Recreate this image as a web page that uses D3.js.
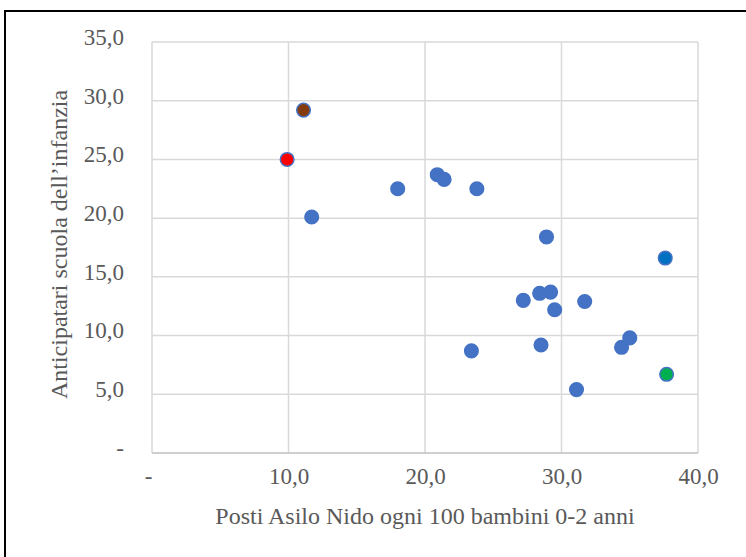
<!DOCTYPE html>
<html>
<head>
<meta charset="utf-8">
<style>
    body { margin: 0; background: #fff; }
    .tick text { font-family: "Liberation Serif", serif; font-size: 23px; fill: #595959; }
    .title { font-family: "Liberation Serif", serif; font-size: 24px; fill: #595959; }
</style>
</head>
<body>
<svg id="graph" width="746" height="557"></svg>
<script src="https://cdn.jsdelivr.net/npm/d3@7"></script>
<script>
// posti asilo nido (x) vs anticipatari (y)
var xValues = [11.1, 9.9, 11.7, 18.0, 20.9, 21.4, 23.8, 28.9, 37.6, 27.2, 28.4, 29.2, 29.5, 31.7, 23.4, 28.5, 31.1, 34.4, 35.0, 37.7];
var yValues = [29.2, 25.0, 20.1, 22.5, 23.7, 23.3, 22.5, 18.4, 16.6, 13.0, 13.6, 13.7, 12.2, 12.9, 8.7, 9.2, 5.4, 9.0, 9.8, 6.7];
var fillColors = ['#843C0C', '#FF0000', '#4472C4', '#4472C4', '#4472C4', '#4472C4', '#4472C4', '#4472C4', '#0070C0', '#4472C4',
                  '#4472C4', '#4472C4', '#4472C4', '#4472C4', '#4472C4', '#4472C4', '#4472C4', '#4472C4', '#4472C4', '#00B050'];
var xTicks = [0, 10, 20, 30, 40];
var yTicks = [0, 5, 10, 15, 20, 25, 30, 35];
var xTitle = 'Posti Asilo Nido ogni 100 bambini 0-2 anni';
var yTitle = 'Anticipatari scuola dell\u2019infanzia';

var margin = { top: 42, left: 152, right: 48, bottom: 104 };
var width = 746 - margin.left - margin.right,
    height = 557 - margin.top - margin.bottom;

var svg = d3.select('#graph');

// chart border
svg.append('rect')
    .attr('x', 5).attr('y', 11)
    .attr('width', 760).attr('height', 560)
    .attr('fill', 'none').attr('stroke', '#000').attr('stroke-width', 2);

var g = svg.append('g').attr('transform', 'translate(' + margin.left + ',' + margin.top + ')');

var x = d3.scaleLinear().domain([0, 40]).range([0, width]);
var y = d3.scaleLinear().domain([0, 35]).range([height, 0]);

function fmt(d) { return d === 0 ? '-' : d.toFixed(1).replace('.', ','); }

// gridlines
g.selectAll('.vgrid').data(xTicks).enter().append('line')
    .attr('x1', d => x(d)).attr('x2', d => x(d))
    .attr('y1', 0).attr('y2', height)
    .attr('stroke', '#d9d9d9').attr('stroke-width', 1.5);
g.selectAll('.hgrid').data(yTicks).enter().append('line')
    .attr('x1', 0).attr('x2', width)
    .attr('y1', d => y(d)).attr('y2', d => y(d))
    .attr('stroke', d => d === 0 ? '#bfbfbf' : '#d9d9d9').attr('stroke-width', 1.5);

// axes (labels only)
var xAxis = g.append('g')
    .attr('transform', 'translate(0,' + height + ')')
    .call(d3.axisBottom(x).tickValues(xTicks).tickFormat(fmt).tickSize(0).tickPadding(15));
xAxis.select('.domain').remove();
xAxis.selectAll('.tick text').attr('transform', d => d === 0 ? 'translate(-4,0)' : null);

var yAxis = g.append('g')
    .call(d3.axisLeft(y).tickValues(yTicks).tickFormat(fmt).tickSize(0).tickPadding(28));
yAxis.select('.domain').remove();
yAxis.selectAll('.tick text').attr('dy', '0.1em');

// points
var pts = xValues.map((d, i) => ({ x: d, y: yValues[i], c: fillColors[i] }));
g.selectAll('.dot').data(pts).enter().append('circle')
    .attr('cx', d => x(d.x)).attr('cy', d => y(d.y))
    .attr('r', 6.8)
    .attr('fill', d => d.c)
    .attr('stroke', '#4472C4').attr('stroke-width', 1.5);

// titles
svg.append('text').attr('class', 'title')
    .attr('x', margin.left + width / 2).attr('y', 524)
    .attr('text-anchor', 'middle').text(xTitle);
svg.append('text').attr('class', 'title')
    .attr('transform', 'translate(67,' + (margin.top + height / 2 - 3) + ') rotate(-90)')
    .attr('text-anchor', 'middle').text(yTitle);
</script>
</body>
</html>
